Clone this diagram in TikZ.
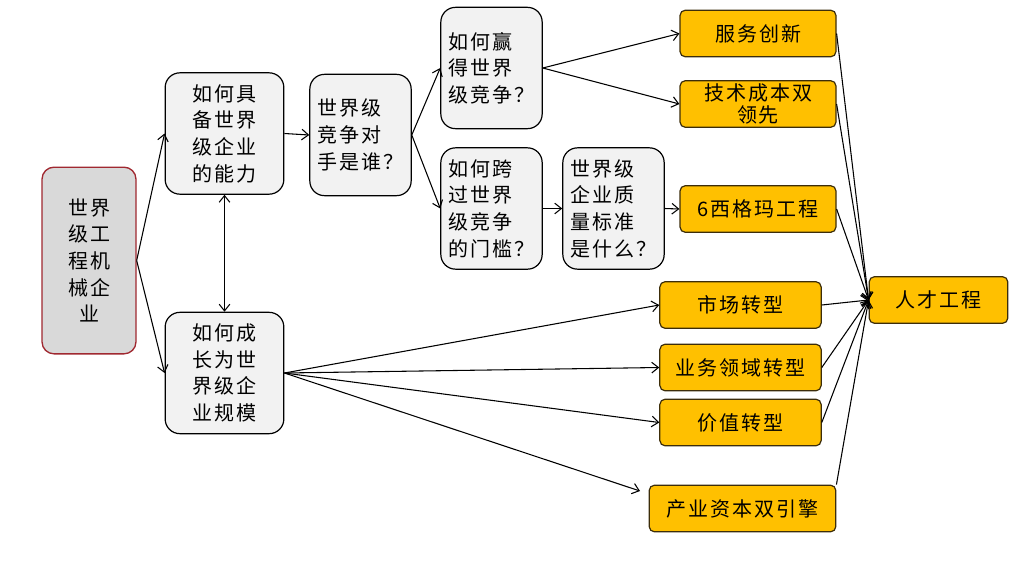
\documentclass[tikz,border=0pt]{standalone}
\usepackage{fontspec}
\setmainfont[LetterSpace=10]{Noto Sans CJK SC}
\usepackage{tikz}
\usetikzlibrary{arrows.meta, positioning}
\definecolor{rootred}{RGB}{160,40,48}
\definecolor{rootgray}{RGB}{217,217,217}
\definecolor{qgray}{RGB}{242,242,242}
\definecolor{gold}{RGB}{255,192,0}
\definecolor{golddraw}{RGB}{60,45,10}
\tikzset{
  rootbox/.style={rectangle, draw=rootred, fill=rootgray, line width=1pt,
    rounded corners=9pt, minimum width=70.5pt, minimum height=140pt,
    align=center, inner sep=0pt},
  qbox/.style={rectangle, draw=black, fill=qgray, line width=0.9pt,
    rounded corners=11pt, minimum width=76pt, minimum height=91pt,
    align=left, inner sep=0pt},
  qboxW/.style={qbox, minimum width=89pt, align=center},
  gbox/.style={rectangle, draw=golddraw, fill=gold, line width=0.9pt,
    rounded corners=4pt, minimum width=117pt, minimum height=35pt,
    align=center, inner sep=0pt},
  gboxS/.style={gbox, minimum width=121pt},
  arr/.style={-{Straight Barb[length=5pt,width=8pt]}, line width=0.8pt},
  arrD/.style={{Straight Barb[length=5pt,width=8pt]}-{Straight Barb[length=5pt,width=8pt]}, line width=0.8pt},
}

\begin{document}
\begin{tikzpicture}[x=0.75pt, y=-0.75pt,
    every node/.style={font=\fontsize{15}{20}\selectfont}]
  \useasboundingbox (0,0) rectangle (1014,579);

  % Left column
  \node[rootbox] (root) at (89,260.5) {世界\\级工\\程机\\械企\\业};
  \node[qboxW] (ability) at (224.5,133.5) {如何具\\备世界\\级企业\\的能力};
  \node[qboxW] (scale) at (224.5,373) {如何成\\长为世\\界级企\\业规模};

  % Middle questions
  \node[qbox] (rival) at (360.5,135) {世界级\\竞争对\\手是谁？};
  \node[qbox] (win) at (491.5,68) {如何赢\\得世界\\级竞争？};
  \node[qbox] (gate) at (491.5,208.5) {如何跨\\过世界\\级竞争\\的门槛？};
  \node[qbox] (quality) at (613.5,208.5) {世界级\\企业质\\量标准\\是什么？};

  % Orange answers
  \node[gbox] (service) at (758,33.5) {服务创新};
  \node[gbox, font=\fontsize{15}{17}\selectfont] (techcost) at (758,104) {技术成本双\\领先};
  \node[gbox] (sigma) at (758,209) {6西格玛工程};
  \node[gboxS] (market) at (740.5,305) {市场转型};
  \node[gboxS] (domain) at (740.5,367.5) {业务领域转型};
  \node[gboxS] (value) at (740.5,422.5) {价值转型};
  \node[gbox, minimum width=140pt] (capital) at (742.5,508.5) {产业资本双引擎};
  \node[gbox, minimum width=104pt] (talent) at (938.5,300) {人才工程};
  \coordinate (capin) at (640,491);

  % Connectors
  \draw[arr] (root.east) -- (ability.west);
  \draw[arr] (root.east) -- (scale.west);
  \draw[arrD] (ability.south) -- (scale.north);
  \draw[arr] (ability.east) -- (rival.west);
  \draw[arr] (rival.east) -- (win.west);
  \draw[arr] (rival.east) -- (gate.west);
  \draw[arr] (win.east) -- (service.west);
  \draw[arr] (win.east) -- (techcost.west);
  \draw[arr] (gate.east) -- (quality.west);
  \draw[arr] (quality.east) -- (sigma.west);
  \draw[arr] (scale.east) -- (market.west);
  \draw[arr] (scale.east) -- (domain.west);
  \draw[arr] (scale.east) -- (value.west);
  \draw[arr] (scale.east) -- (capin);

  % Into talent
  \foreach \src in {service, techcost, sigma, market, domain, value}
    \draw[arr] (\src.east) -- (talent.west);
  \draw[arr] (capital.north east) -- (talent.west);
\end{tikzpicture}
\end{document}
